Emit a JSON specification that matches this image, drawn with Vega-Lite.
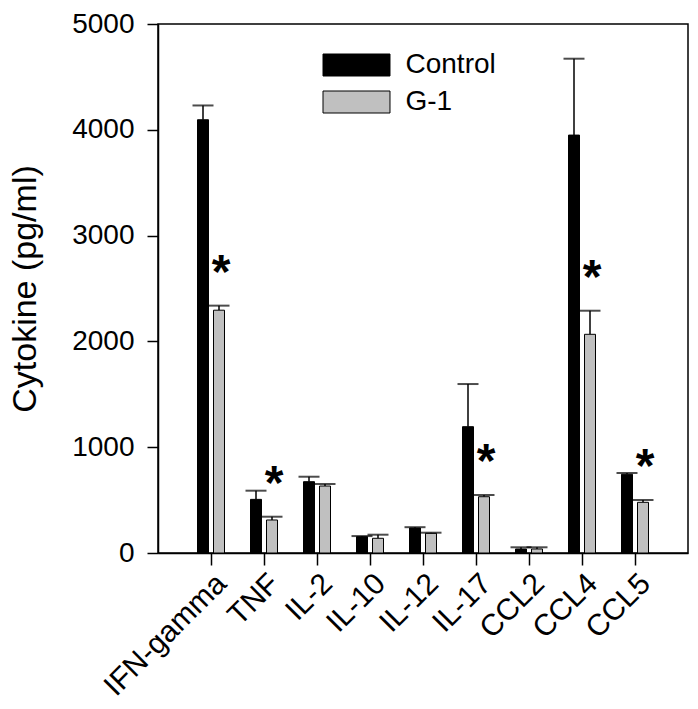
{
  "$schema": "https://vega.github.io/schema/vega-lite/v6.json",
  "width": 530,
  "height": 529,
  "autosize": "none",
  "padding": {"left": 158, "top": 24, "right": 10, "bottom": 156},
  "background": "white",
  "config": {
    "font": "Liberation Sans",
    "view": {"stroke": "black", "strokeWidth": 1.5},
    "axis": {"domainColor": "black", "domainWidth": 1.5, "tickColor": "black", "tickWidth": 1.5, "labelColor": "black", "titleColor": "black", "grid": false},
    "legend": {"padding": 0}
  },
  "data": {
    "values": [
      {"cytokine": "IFN-gamma", "group": "Control", "value": 4095, "upper": 4230, "star": ""},
      {"cytokine": "IFN-gamma", "group": "G-1", "value": 2295, "upper": 2338, "star": "*"},
      {"cytokine": "TNF", "group": "Control", "value": 507, "upper": 589, "star": ""},
      {"cytokine": "TNF", "group": "G-1", "value": 312, "upper": 343, "star": "*"},
      {"cytokine": "IL-2", "group": "Control", "value": 674, "upper": 721, "star": ""},
      {"cytokine": "IL-2", "group": "G-1", "value": 633, "upper": 652, "star": ""},
      {"cytokine": "IL-10", "group": "Control", "value": 154, "upper": 160, "star": ""},
      {"cytokine": "IL-10", "group": "G-1", "value": 139, "upper": 173, "star": ""},
      {"cytokine": "IL-12", "group": "Control", "value": 236, "upper": 244, "star": ""},
      {"cytokine": "IL-12", "group": "G-1", "value": 186, "upper": 192, "star": ""},
      {"cytokine": "IL-17", "group": "Control", "value": 1194, "upper": 1597, "star": ""},
      {"cytokine": "IL-17", "group": "G-1", "value": 532, "upper": 548, "star": "*"},
      {"cytokine": "CCL2", "group": "Control", "value": 38, "upper": 54, "star": ""},
      {"cytokine": "CCL2", "group": "G-1", "value": 38, "upper": 54, "star": ""},
      {"cytokine": "CCL4", "group": "Control", "value": 3950, "upper": 4672, "star": ""},
      {"cytokine": "CCL4", "group": "G-1", "value": 2067, "upper": 2290, "star": "*"},
      {"cytokine": "CCL5", "group": "Control", "value": 744, "upper": 756, "star": ""},
      {"cytokine": "CCL5", "group": "G-1", "value": 479, "upper": 501, "star": "*"}
    ]
  },
  "encoding": {
    "x": {
      "field": "cytokine", "type": "nominal", "sort": null,
      "scale": {"paddingInner": 0, "paddingOuter": 0.5},
      "axis": {"title": null, "labelAngle": -45, "labelFontSize": 30, "tickSize": 12, "labelPadding": 3}
    },
    "xOffset": {
      "field": "group", "type": "nominal",
      "scale": {"paddingInner": 0.3125, "paddingOuter": 0.8125}
    }
  },
  "layer": [
    {
      "mark": {"type": "rule", "color": "black", "strokeWidth": 1.5},
      "encoding": {
        "y": {"field": "value", "type": "quantitative", "title": "Cytokine (pg/ml)", "scale": {"domain": [0, 5000], "nice": false}},
        "y2": {"field": "upper"}
      }
    },
    {
      "mark": {"type": "bar", "stroke": "black", "strokeWidth": 1},
      "encoding": {
        "y": {
          "field": "value", "type": "quantitative", "title": "Cytokine (pg/ml)",
          "scale": {"domain": [0, 5000], "nice": false},
          "axis": {"values": [0, 1000, 2000, 3000, 4000, 5000], "format": "d", "tickSize": 11, "labelFontSize": 28, "labelPadding": 13, "titleFontSize": 34, "titleFontWeight": "normal", "titlePadding": 29}
        },
        "fill": {
          "field": "group", "type": "nominal",
          "scale": {"domain": ["Control", "G-1"], "range": ["black", "#c0c0c0"]},
          "legend": {
            "title": null, "orient": "none", "legendX": 184.5, "legendY": 27,
            "symbolType": "M-3.045,-1H3.045V1H-3.045Z", "symbolSize": 484,
            "symbolStrokeColor": "black", "symbolStrokeWidth": 1,
            "labelFontSize": 28, "labelOffset": 35, "rowPadding": 9, "labelColor": "black"
          }
        }
      }
    },
    {
      "mark": {"type": "tick", "color": "black", "thickness": 2, "size": 21, "orient": "horizontal"},
      "encoding": {
        "y": {"field": "upper", "type": "quantitative", "title": "Cytokine (pg/ml)"}
      }
    },
    {
      "mark": {"type": "text", "fontSize": 48, "fontWeight": "bold", "baseline": "alphabetic", "dy": -18, "dx": 2, "color": "black"},
      "encoding": {
        "y": {"field": "upper", "type": "quantitative", "title": "Cytokine (pg/ml)"},
        "text": {"field": "star"}
      }
    }
  ]
}
